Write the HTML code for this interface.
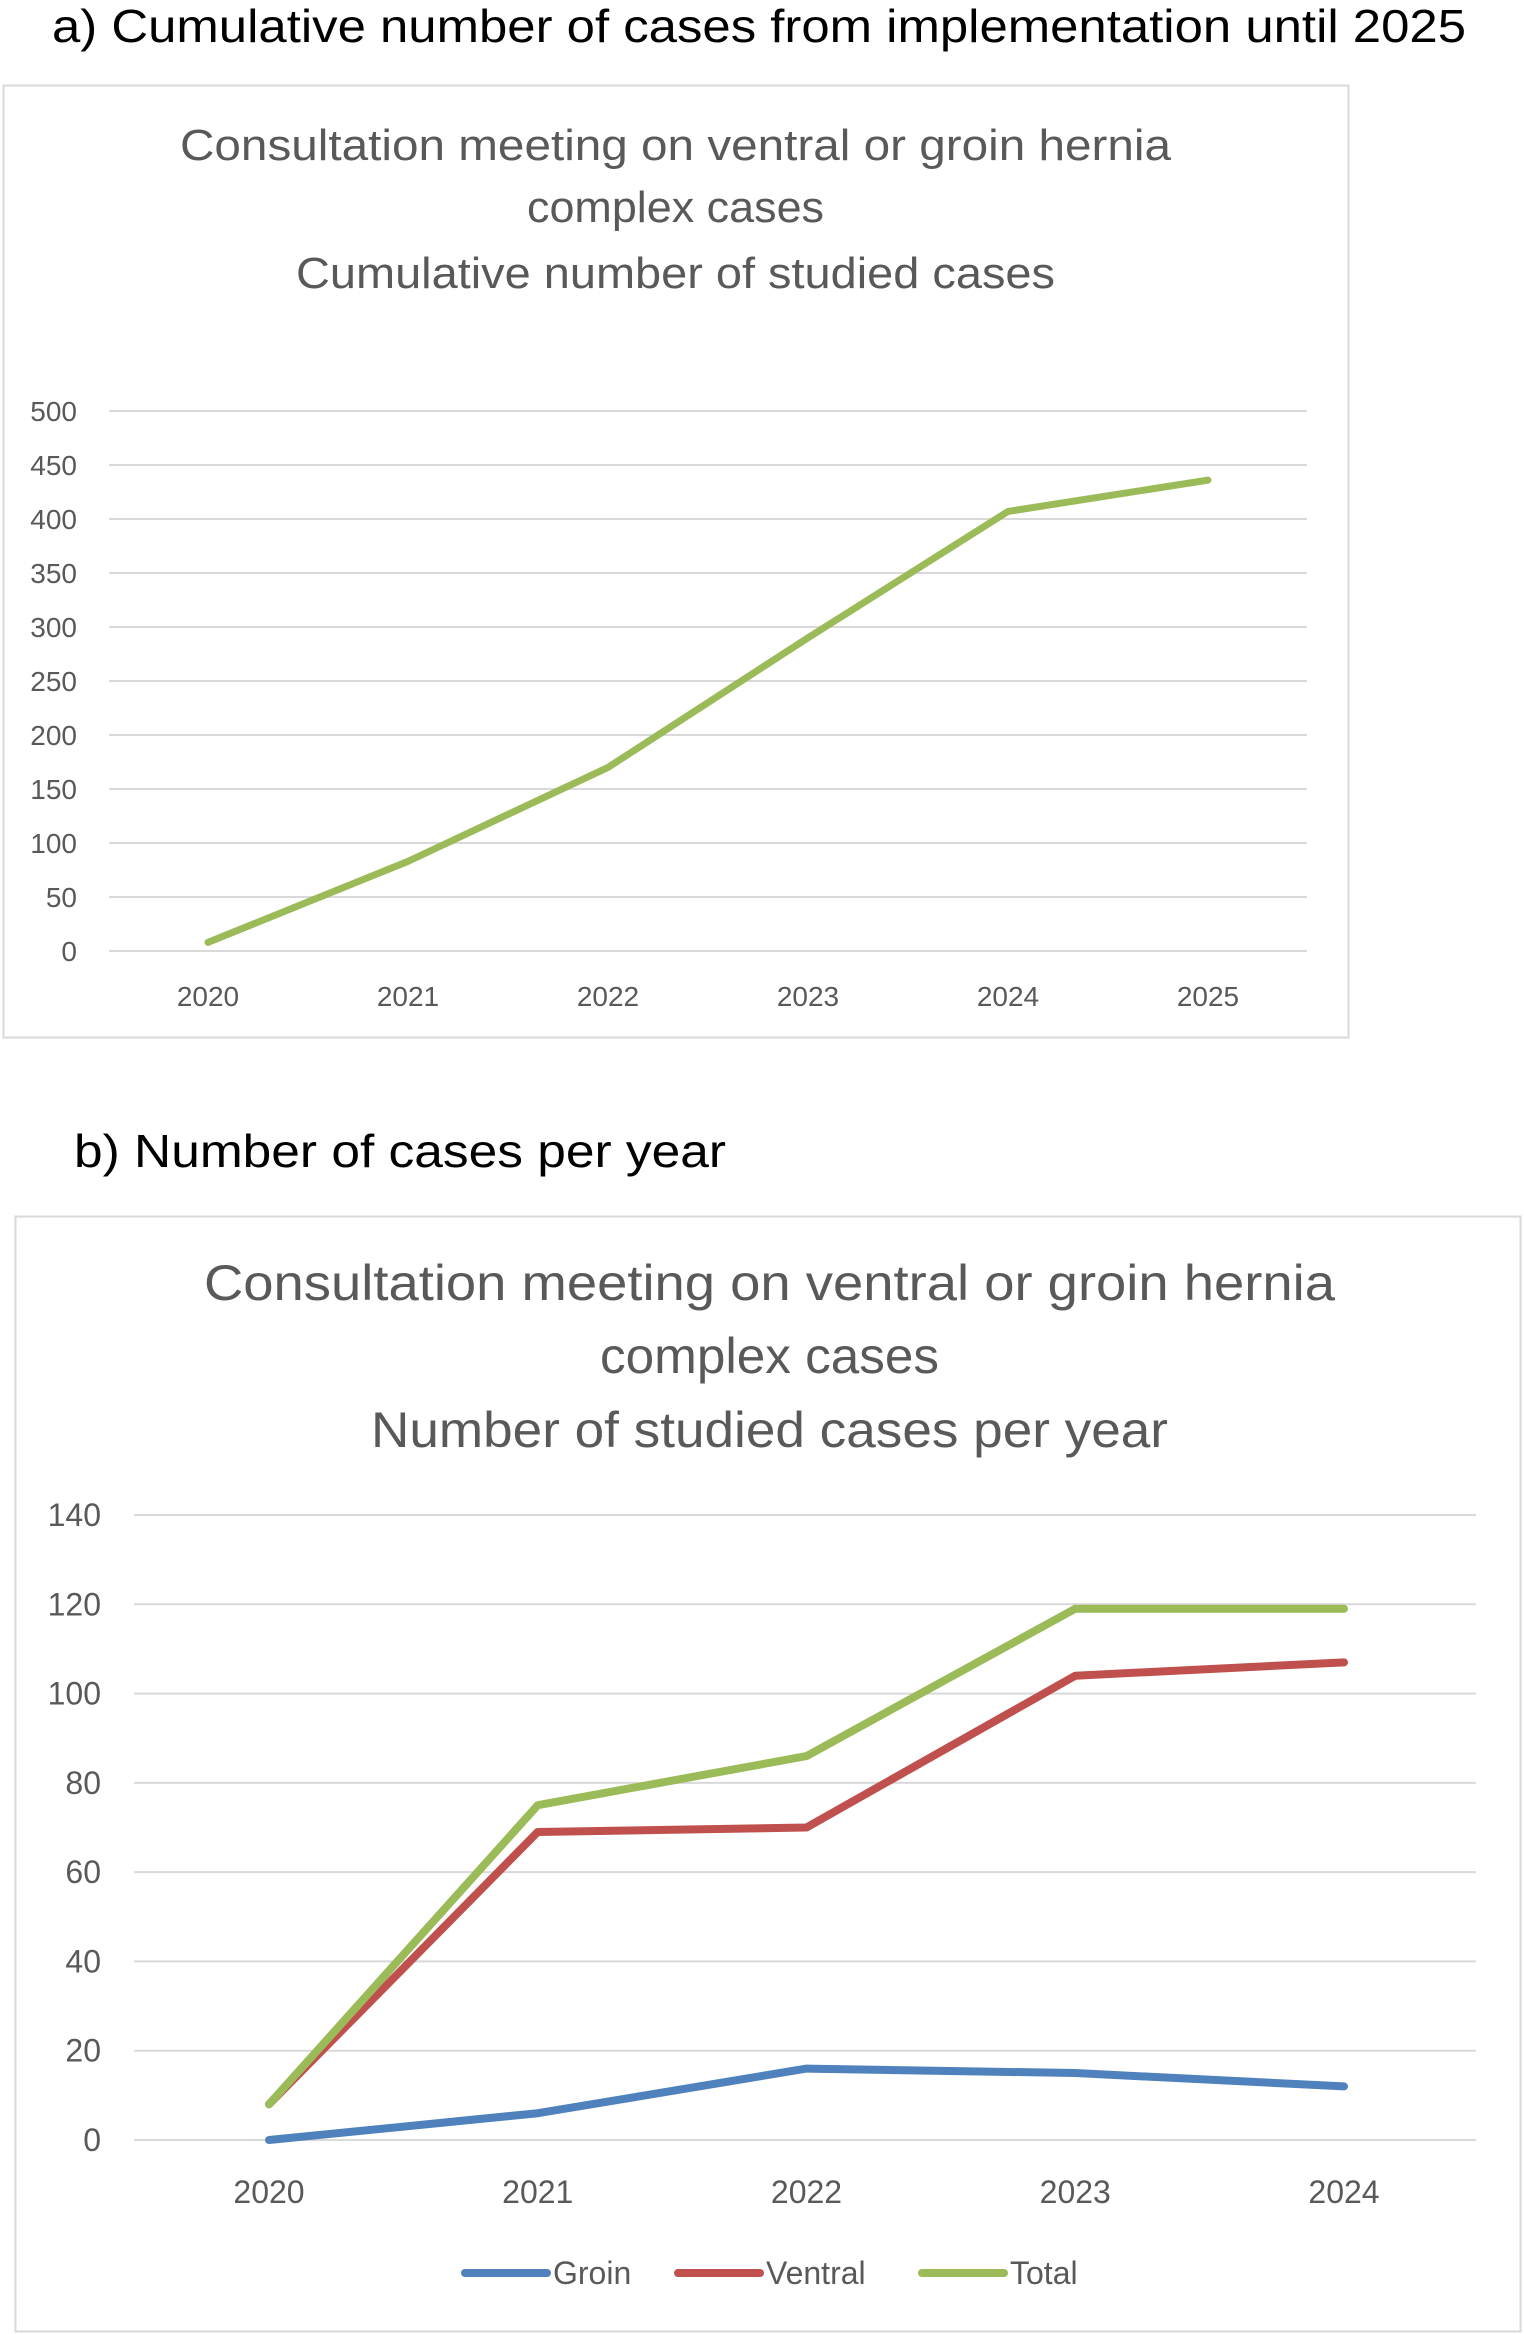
<!DOCTYPE html>
<html><head><meta charset="utf-8"><style>
body{margin:0;background:#fff;width:1524px;height:2334px;overflow:hidden;font-family:"Liberation Sans",sans-serif}
svg{position:absolute;left:0;top:0}
</style></head><body>
<svg width="1524" height="2334">
<text x="52" y="42" font-size="46" fill="#000" textLength="1414" lengthAdjust="spacingAndGlyphs">a)  Cumulative number of cases from implementation until 2025</text>
<rect x="3.5" y="85.5" width="1345" height="952" fill="#fff" stroke="#d9d9d9" stroke-width="2"/>
<g font-size="44" fill="#595959" lengthAdjust="spacingAndGlyphs">
<text x="180" y="160" textLength="991" lengthAdjust="spacingAndGlyphs">Consultation meeting on ventral or groin hernia</text>
<text x="527" y="222" textLength="297" lengthAdjust="spacingAndGlyphs">complex cases</text>
<text x="296" y="288" textLength="759" lengthAdjust="spacingAndGlyphs">Cumulative number of studied cases</text>
</g>
<g id="ga"></g>
<text x="74" y="1167" font-size="46" fill="#000" textLength="652" lengthAdjust="spacingAndGlyphs">b)  Number of cases per year</text>
<rect x="15.5" y="1216.5" width="1505" height="1115" fill="#fff" stroke="#d9d9d9" stroke-width="2"/>
<g font-size="50" fill="#595959">
<text x="204" y="1300" textLength="1131" lengthAdjust="spacingAndGlyphs">Consultation meeting on ventral or groin hernia</text>
<text x="600" y="1373" textLength="339" lengthAdjust="spacingAndGlyphs">complex cases</text>
<text x="371" y="1447" textLength="797" lengthAdjust="spacingAndGlyphs">Number of studied cases per year</text>
</g>
<g id="gb"></g>
</svg>
<script>
const catsA=["2020","2021","2022","2023","2024","2025"];
const cumTotal=[8,83,170,290,407,436];
const ticksA=[0,50,100,150,200,250,300,350,400,450,500];
const catsB=["2020","2021","2022","2023","2024"];
const groin=[0,6,16,15,12];
const ventral=[8,69,70,104,107];
const total=[8,75,86,119,119];
const ticksB=[0,20,40,60,80,100,120,140];
const NS="http://www.w3.org/2000/svg";
function mk(p,t,a){const e=document.createElementNS(NS,t);for(const k in a)e.setAttribute(k,a[k]);p.appendChild(e);return e;}
// chart A
const ga=document.getElementById('ga');
const xA=i=>208+i*200, yA=v=>951-v*(540/500);
ticksA.forEach(t=>{
 const l=mk(ga,'line',{x1:109,x2:1307,y1:yA(t),y2:yA(t),stroke:'#d9d9d9','stroke-width':2});
 
 
 const tx=mk(ga,'text',{x:77,y:yA(t)+10,'font-size':28,fill:'#595959','text-anchor':'end'});tx.textContent=t;
 
 
});
catsA.forEach((c,i)=>{const tx=mk(ga,'text',{x:xA(i),y:1006,'font-size':28,fill:'#595959','text-anchor':'middle'});tx.textContent=c;
 
 });
const pa=mk(ga,'polyline',{points:cumTotal.map((v,i)=>xA(i)+','+yA(v)).join(' '),fill:'none',stroke:'#9bbb59','stroke-width':7,'stroke-linecap':'round','stroke-linejoin':'round'});


// chart B
const gb=document.getElementById('gb');
const xB=i=>269+i*268.75, yB=v=>2140-v*(625/140);
ticksB.forEach(t=>{
 const l=mk(gb,'line',{x1:134,x2:1476,y1:yB(t),y2:yB(t),stroke:'#d9d9d9','stroke-width':2});
 
 
 const tx=mk(gb,'text',{x:101,y:yB(t)+11,'font-size':32,fill:'#595959','text-anchor':'end'});tx.textContent=t;
 
 
});
catsB.forEach((c,i)=>{const tx=mk(gb,'text',{x:xB(i),y:2203,'font-size':32,fill:'#595959','text-anchor':'middle'});tx.textContent=c;
 
 });
const series=[[groin,'#4f81bd','groin-line'],[ventral,'#c0504d','ventral-line'],[total,'#9bbb59','total-line']];
series.forEach(s=>{const p=mk(gb,'polyline',{points:s[0].map((v,i)=>xB(i)+','+yB(v)).join(' '),fill:'none',stroke:s[1],'stroke-width':8,'stroke-linecap':'round','stroke-linejoin':'round'});
 
 });
const leg=[['Groin','#4f81bd',461],['Ventral','#c0504d',674],['Total','#9bbb59',918]];
leg.forEach(L=>{
 const l=mk(gb,'line',{x1:L[2]+4,x2:L[2]+86,y1:2273,y2:2273,stroke:L[1],'stroke-width':8,'stroke-linecap':'round'});
 
 
 const t=mk(gb,'text',{x:L[2]+92,y:2284,'font-size':32,fill:'#595959'});t.textContent=L[0];
 
 
});
</script>
</body></html>
